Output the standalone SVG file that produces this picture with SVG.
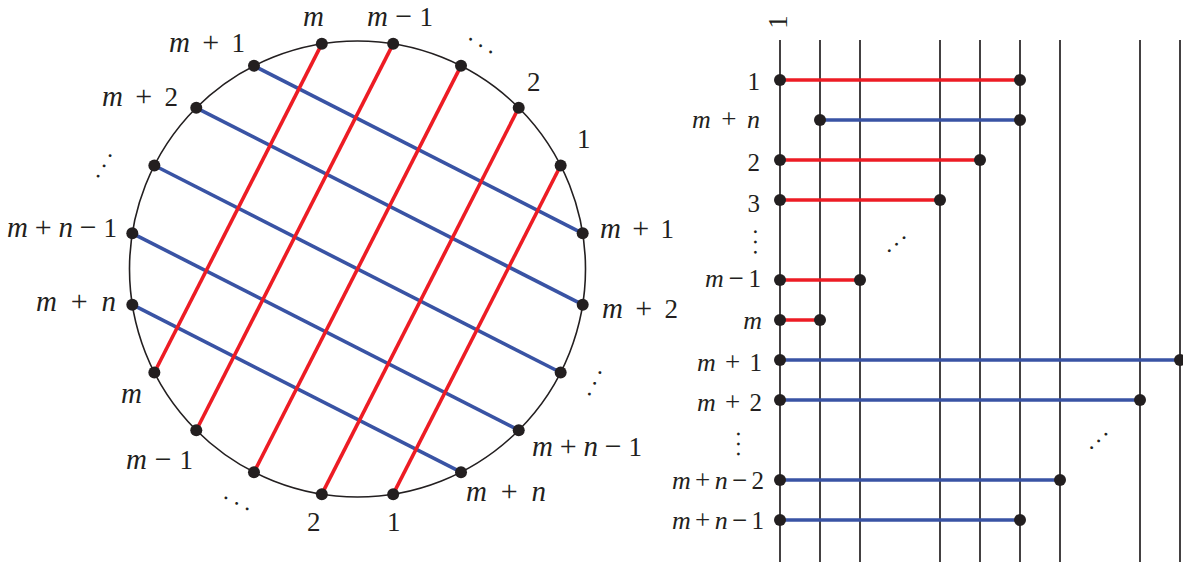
<svg xmlns="http://www.w3.org/2000/svg" width="1183" height="567" viewBox="0 0 1183 567">
<style>
  .bg { fill: #ffffff; }
  .rim { fill: none; stroke: #231f20; stroke-width: 1.6; }
  .red { stroke: #ed1c24; stroke-width: 3.6; stroke-linecap: butt; fill: none; }
  .blue { stroke: #3953a4; stroke-width: 3.6; stroke-linecap: butt; fill: none; }
  .vline { stroke: #231f20; stroke-width: 1.7; }
  .dot { fill: #231f20; }
  .lbl { font-family: "Liberation Serif", "Times New Roman", serif; font-size: 27px; fill: #231f20; }
  .lbl .op { font-size: 30px; }
  .lbl .it, .lbl.it { font-size: 29px; }
  .rl { font-family: "Liberation Serif", "Times New Roman", serif; font-size: 25px; fill: #231f20; text-anchor: end; }
  .rl .op { font-size: 27px; }
  .rl .it, .rl.it { font-size: 26px; }
  .it { font-style: italic; }
  .dots { font-family: "Liberation Serif", "Times New Roman", serif; font-size: 24px; fill: #231f20; }
</style>
<rect class="bg" x="0" y="0" width="1183" height="567"/>

<!-- LEFT: circle -->
<g id="circle">
  <circle class="rim" cx="357.5" cy="269" r="228"/>
</g>

<g id="chords">
  <g id="blue-chords">
    <line class="blue" x1="253.99" y1="65.85" x2="582.69" y2="233.33"/>
    <line class="blue" x1="196.28" y1="107.78" x2="582.69" y2="304.67"/>
    <line class="blue" x1="154.35" y1="165.49" x2="560.65" y2="372.51"/>
    <line class="blue" x1="132.31" y1="233.33" x2="518.72" y2="430.22"/>
    <line class="blue" x1="132.31" y1="304.67" x2="461.01" y2="472.15"/>
  </g>
  <g id="red-chords">
    <line class="red" x1="321.83" y1="43.81" x2="154.35" y2="372.51"/>
    <line class="red" x1="393.17" y1="43.81" x2="196.28" y2="430.22"/>
    <line class="red" x1="461.01" y1="65.85" x2="253.99" y2="472.15"/>
    <line class="red" x1="518.72" y1="107.78" x2="321.83" y2="494.19"/>
    <line class="red" x1="560.65" y1="165.49" x2="393.17" y2="494.19"/>
  </g>
</g>

<g id="circle-nodes">
  <g id="c-top-m"><circle class="dot" cx="321.83" cy="43.81" r="6"/><text class="lbl it" x="303" y="26">m</text></g>
  <g id="c-top-m-1"><circle class="dot" cx="393.17" cy="43.81" r="6"/><text class="lbl" x="367" y="26" textLength="66" lengthAdjust="spacing"><tspan class="it">m</tspan><tspan class="op">−</tspan>1</text></g>
  <g id="c-top-dots"><circle class="dot" cx="461.01" cy="65.85" r="6"/><text class="dots" transform="translate(470.7,39.3) rotate(32.4)" x="-3" y="1.07" letter-spacing="5.85">...</text></g>
  <g id="c-top-2"><circle class="dot" cx="518.72" cy="107.78" r="6"/><text class="lbl" x="527" y="90.5">2</text></g>
  <g id="c-top-1"><circle class="dot" cx="560.65" cy="165.49" r="6"/><text class="lbl" x="577" y="148">1</text></g>
  <g id="c-r-m+1"><circle class="dot" cx="582.69" cy="233.33" r="6"/><text class="lbl" x="600" y="238" textLength="74" lengthAdjust="spacing"><tspan class="it">m</tspan> <tspan class="op">+</tspan> 1</text></g>
  <g id="c-r-m+2"><circle class="dot" cx="582.69" cy="304.67" r="6"/><text class="lbl" x="602" y="318" textLength="76" lengthAdjust="spacing"><tspan class="it">m</tspan> <tspan class="op">+</tspan> 2</text></g>
  <g id="c-r-dots"><circle class="dot" cx="560.65" cy="372.51" r="6"/><text class="dots" transform="translate(589.3,394) rotate(-63.7)" x="-3" y="1.07" letter-spacing="6">...</text></g>
  <g id="c-r-m+n-1"><circle class="dot" cx="518.72" cy="430.22" r="6"/><text class="lbl" x="532" y="455.5" textLength="110" lengthAdjust="spacing"><tspan class="it">m</tspan><tspan class="op">+</tspan><tspan class="it">n</tspan><tspan class="op">−</tspan>1</text></g>
  <g id="c-r-m+n"><circle class="dot" cx="461.01" cy="472.15" r="6"/><text class="lbl" x="466" y="501" textLength="80" lengthAdjust="spacing"><tspan class="it">m</tspan> <tspan class="op">+</tspan> <tspan class="it">n</tspan></text></g>
  <g id="c-bot-1"><circle class="dot" cx="393.17" cy="494.19" r="6"/><text class="lbl" x="387" y="531">1</text></g>
  <g id="c-bot-2"><circle class="dot" cx="321.83" cy="494.19" r="6"/><text class="lbl" x="307" y="531">2</text></g>
  <g id="c-bot-dots"><circle class="dot" cx="253.99" cy="472.15" r="6"/><text class="dots" transform="translate(226,498) rotate(27.6)" x="-3" y="1.07" letter-spacing="5.9">...</text></g>
  <g id="c-l-m-1"><circle class="dot" cx="196.28" cy="430.22" r="6"/><text class="lbl" x="126" y="469" textLength="67" lengthAdjust="spacing"><tspan class="it">m</tspan><tspan class="op">−</tspan>1</text></g>
  <g id="c-l-m"><circle class="dot" cx="154.35" cy="372.51" r="6"/><text class="lbl it" x="121" y="403">m</text></g>
  <g id="c-l-m+n"><circle class="dot" cx="132.31" cy="304.67" r="6"/><text class="lbl" x="36" y="311" textLength="80" lengthAdjust="spacing"><tspan class="it">m</tspan> <tspan class="op">+</tspan> <tspan class="it">n</tspan></text></g>
  <g id="c-l-m+n-1"><circle class="dot" cx="132.31" cy="233.33" r="6"/><text class="lbl" x="7" y="237" textLength="110" lengthAdjust="spacing"><tspan class="it">m</tspan><tspan class="op">+</tspan><tspan class="it">n</tspan><tspan class="op">−</tspan>1</text></g>
  <g id="c-l-dots"><circle class="dot" cx="154.35" cy="165.49" r="6"/><text class="dots" transform="translate(98,176) rotate(-59.5)" x="-3" y="1.07" letter-spacing="5.8">...</text></g>
  <g id="c-l-m+2"><circle class="dot" cx="196.28" cy="107.78" r="6"/><text class="lbl" x="102" y="106" textLength="76" lengthAdjust="spacing"><tspan class="it">m</tspan> <tspan class="op">+</tspan> 2</text></g>
  <g id="c-l-m+1"><circle class="dot" cx="253.99" cy="65.85" r="6"/><text class="lbl" x="169" y="52" textLength="76" lengthAdjust="spacing"><tspan class="it">m</tspan> <tspan class="op">+</tspan> 1</text></g>
</g>

<!-- RIGHT: strand diagram -->
<g id="strands">
  <line class="vline" x1="780" y1="40" x2="780" y2="562"/>
  <line class="vline" x1="820" y1="40" x2="820" y2="562"/>
  <line class="vline" x1="860" y1="40" x2="860" y2="562"/>
  <line class="vline" x1="940" y1="40" x2="940" y2="562"/>
  <line class="vline" x1="980" y1="40" x2="980" y2="562"/>
  <line class="vline" x1="1020" y1="40" x2="1020" y2="562"/>
  <line class="vline" x1="1060" y1="40" x2="1060" y2="562"/>
  <line class="vline" x1="1140" y1="40" x2="1140" y2="562"/>
  <line class="vline" x1="1180" y1="40" x2="1180" y2="562"/>
  <text class="lbl" text-anchor="middle" font-size="25" transform="translate(787,22) rotate(-90)" x="0" y="0">1</text>
</g>

<g id="rungs">
  <line class="red" x1="780" y1="80" x2="1020" y2="80"/>
  <line class="blue" x1="820" y1="120" x2="1020" y2="120"/>
  <line class="red" x1="780" y1="160" x2="980" y2="160"/>
  <line class="red" x1="780" y1="200" x2="940" y2="200"/>
  <line class="red" x1="780" y1="280" x2="860" y2="280"/>
  <line class="red" x1="780" y1="320" x2="820" y2="320"/>
  <line class="blue" x1="780" y1="360" x2="1180" y2="360"/>
  <line class="blue" x1="780" y1="400" x2="1140" y2="400"/>
  <line class="blue" x1="780" y1="480" x2="1060" y2="480"/>
  <line class="blue" x1="780" y1="520" x2="1020" y2="520"/>
</g>

<g id="rung-nodes">
  <g id="r-1"><circle class="dot" cx="780" cy="80" r="6"/><circle class="dot" cx="1020" cy="80" r="6"/><text class="rl" x="760" y="90">1</text></g>
  <g id="r-m+n"><circle class="dot" cx="820" cy="120" r="6"/><circle class="dot" cx="1020" cy="120" r="6"/><text class="rl" x="760" y="128" textLength="68" lengthAdjust="spacing"><tspan class="it">m</tspan> <tspan class="op">+</tspan> <tspan class="it">n</tspan></text></g>
  <g id="r-2"><circle class="dot" cx="780" cy="160" r="6"/><circle class="dot" cx="980" cy="160" r="6"/><text class="rl" x="760" y="170.5">2</text></g>
  <g id="r-3"><circle class="dot" cx="780" cy="200" r="6"/><circle class="dot" cx="940" cy="200" r="6"/><text class="rl" x="760" y="212">3</text></g>
  <g id="r-vdots1"><text class="dots" transform="translate(755,231.7) rotate(90)" x="-3" y="1.07" letter-spacing="4.3">...</text></g>
  <g id="r-ddots1"><text class="dots" transform="translate(889.3,250.7) rotate(-41.6)" x="-3" y="1.07" letter-spacing="3.8">...</text></g>
  <g id="r-m-1"><circle class="dot" cx="780" cy="280" r="6"/><circle class="dot" cx="860" cy="280" r="6"/><text class="rl" x="761" y="287" textLength="56" lengthAdjust="spacing"><tspan class="it">m</tspan><tspan class="op">−</tspan>1</text></g>
  <g id="r-m"><circle class="dot" cx="780" cy="320" r="6"/><circle class="dot" cx="820" cy="320" r="6"/><text class="rl it" x="762" y="329">m</text></g>
  <g id="r-m+1"><circle class="dot" cx="780" cy="360" r="6"/><circle class="dot" cx="1180" cy="360" r="6"/><text class="rl" x="762" y="371" textLength="65" lengthAdjust="spacing"><tspan class="it">m</tspan> <tspan class="op">+</tspan> 1</text></g>
  <g id="r-m+2"><circle class="dot" cx="780" cy="400" r="6"/><circle class="dot" cx="1140" cy="400" r="6"/><text class="rl" x="762" y="411" textLength="65" lengthAdjust="spacing"><tspan class="it">m</tspan> <tspan class="op">+</tspan> 2</text></g>
  <g id="r-vdots2"><text class="dots" transform="translate(738.3,434) rotate(90)" x="-3" y="1.07" letter-spacing="4">...</text></g>
  <g id="r-ddots2"><text class="dots" transform="translate(1091.7,447.7) rotate(-44)" x="-3" y="1.07" letter-spacing="3.8">...</text></g>
  <g id="r-m+n-2"><circle class="dot" cx="780" cy="480" r="6"/><circle class="dot" cx="1060" cy="480" r="6"/><text class="rl" x="764" y="488.5" textLength="92" lengthAdjust="spacing"><tspan class="it">m</tspan><tspan class="op">+</tspan><tspan class="it">n</tspan><tspan class="op">−</tspan>2</text></g>
  <g id="r-m+n-1"><circle class="dot" cx="780" cy="520" r="6"/><circle class="dot" cx="1020" cy="520" r="6"/><text class="rl" x="764" y="528.5" textLength="92" lengthAdjust="spacing"><tspan class="it">m</tspan><tspan class="op">+</tspan><tspan class="it">n</tspan><tspan class="op">−</tspan>1</text></g>
</g>
</svg>
